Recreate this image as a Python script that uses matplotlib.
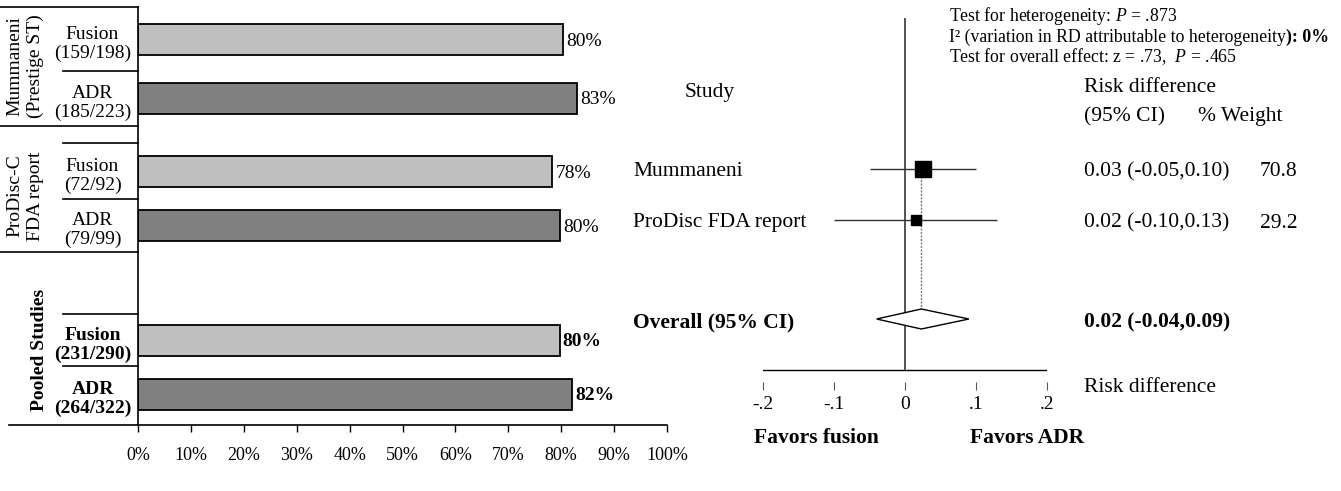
import matplotlib
matplotlib.use("Agg")
import matplotlib.pyplot as plt
import numpy as np

plt.rcParams['font.family'] = ['Liberation Serif', 'DejaVu Serif']
plt.rcParams['mathtext.fontset'] = 'custom'
plt.rcParams['mathtext.rm'] = 'Liberation Serif'
plt.rcParams['mathtext.it'] = 'Liberation Serif:italic'
plt.rcParams['mathtext.bf'] = 'Liberation Serif:bold'

# ---- left panel data (success rates) ----
group_names = ["Mummaneni\n(Prestige ST)", "ProDisc-C\nFDA report", "Pooled Studies"]
arm_labels = ["Fusion\n(159/198)", "ADR\n(185/223)",
              "Fusion\n(72/92)", "ADR\n(79/99)",
              "Fusion\n(231/290)", "ADR\n(264/322)"]
arm_rates = [80.3, 83.0, 78.3, 79.8, 79.7, 82.0]
arm_kind = ["Fusion", "ADR", "Fusion", "ADR", "Fusion", "ADR"]
pct_ticks = [0, 10, 20, 30, 40, 50, 60, 70, 80, 90, 100]

# ---- right panel data (forest plot) ----
studies = ["Mummaneni", "ProDisc FDA report"]
rd = [0.025, 0.015]
rd_lo = [-0.05, -0.10]
rd_hi = [0.10, 0.13]
rd_text = ["0.03 (-0.05,0.10)", "0.02 (-0.10,0.13)"]
weights = [70.8, 29.2]
overall_rd = 0.023
overall_lo = -0.04
overall_hi = 0.09
overall_text = "0.02 (-0.04,0.09)"
rd_ticks = [-0.2, -0.1, 0, 0.1, 0.2]
rd_ticklabels = ["-.2", "-.1", "0", ".1", ".2"]

W, H = 1341, 491
fig = plt.figure(figsize=(W / 100, H / 100), dpi=100)

def fx(px):
    return px / W

def fy(py):
    return 1 - py / H

# ================= left: bar chart =================
ax1 = fig.add_axes([fx(138), fy(425), (667 - 138) / W, (425 - 7) / H])
ax1.set_xlim(0, 100)
ax1.set_ylim(425, 7)  # y in pixel units from top

bar_y = [39, 98, 171, 225, 340, 394]
colors = {"Fusion": "#c0c0c0", "ADR": "#808080"}
ax1.barh(bar_y, arm_rates, height=31, color=[colors[k] for k in arm_kind],
         edgecolor="black", linewidth=1.3, zorder=2)

for i, (y, v) in enumerate(zip(bar_y, arm_rates)):
    bold = i >= 4
    ax1.text(v + 0.6, y + 2, "%d%%" % round(v), va="center", ha="left",
             fontsize=14, fontweight="bold" if bold else "normal")
    ax1.text(-8.6, y + 5, arm_labels[i], va="center", ha="center",
             fontsize=14, linespacing=1.15, clip_on=False,
             fontweight="bold" if bold else "normal")

def xd(px):
    return (px - 138) / 5.29

# label table lines
for y in [7, 126, 252]:
    ax1.plot([xd(0), 0], [y, y], color="black", lw=1.2, clip_on=False)
for y in [71, 143, 199, 314, 366]:
    ax1.plot([xd(63), 0], [y, y], color="black", lw=1.2, clip_on=False)
ax1.plot([xd(9), 0], [425, 425], color="black", lw=1.2, clip_on=False)

ax1.text(xd(25), 66, group_names[0], rotation=90, va="center", ha="center",
         fontsize=14, linespacing=1.25, clip_on=False)
ax1.text(xd(25), 196, group_names[1], rotation=90, va="center", ha="center",
         fontsize=14, linespacing=1.25, clip_on=False)
ax1.text(xd(40), 350, group_names[2], rotation=90, va="center", ha="center",
         fontsize=14, fontweight="bold", clip_on=False)

for s in ["top", "right"]:
    ax1.spines[s].set_visible(False)
ax1.spines["left"].set_linewidth(1.2)
ax1.spines["bottom"].set_linewidth(1.2)
ax1.set_yticks([])
ax1.set_xticks(pct_ticks)
ax1.set_xticklabels(["%d%%" % t for t in pct_ticks])
ax1.tick_params(axis="x", direction="out", length=5, width=1, pad=11, labelsize=13)

# ================= right: forest plot =================
ax2 = fig.add_axes([fx(763), fy(382), (1047 - 763) / W, (382 - 7) / H])
ax2.set_xlim(-0.2, 0.2)
ax2.set_ylim(382, 7)
for s in ax2.spines.values():
    s.set_visible(False)
ax2.set_yticks([])
ax2.set_xticks(rd_ticks)
ax2.set_xticklabels(rd_ticklabels)
ax2.tick_params(axis="x", direction="out", length=6, width=0.8, color="#555555",
                pad=4, labelsize=14)

ax2.axhline(370, color="black", lw=1.0)
ax2.vlines(0, 18, 370, color="#444444", lw=1.3)

row_y = [169, 220]
overall_y = 319
for y, est, lo, hi, w in zip(row_y, rd, rd_lo, rd_hi, weights):
    ax2.hlines(y, lo, hi, color="#333333", lw=1.0, zorder=2)
    ax2.plot(est, y, marker="s", color="black", markersize=1.45 * np.sqrt(w),
             zorder=3)

ax2.vlines(overall_rd, row_y[0], overall_y, color="#777777", lw=1.0,
           linestyles=(0, (1.5, 1)), zorder=1)
ax2.fill([overall_lo, overall_rd, overall_hi, overall_rd],
         [overall_y, overall_y - 10, overall_y, overall_y + 10],
         facecolor="white", edgecolor="black", lw=1.0, zorder=2)

def ftext(px, py, s, **kw):
    kw.setdefault("fontsize", 15.5)
    kw.setdefault("va", "center")
    kw.setdefault("ha", "left")
    return fig.text(fx(px), fy(py), s, **kw)

ftext(685, 92, "Study")
ftext(1084, 88, "Risk difference")
ftext(1084, 117, "(95% CI)")
ftext(1198, 117, "% Weight")
for y, name, t, w in zip(row_y, studies, rd_text, weights):
    ftext(633, y + 3, name)
    ftext(1084, y + 3, t)
    ftext(1260, y + 3, "%.1f" % w)
ftext(633, overall_y + 3, "Overall (95% CI)", fontweight="bold")
ftext(1084, overall_y + 3, overall_text, fontweight="bold")
ftext(1084, 387, "Risk difference")
ftext(754, 438, "Favors fusion", fontweight="bold")
ftext(970, 438, "Favors ADR", fontweight="bold")

ftext(949, 16, r"Test for heterogeneity: $P$ = .873", fontsize=12.8)
t2 = ftext(949, 37, "I\u00b2 (variation in RD attributable to heterogeneity", fontsize=12.8)
ax2.annotate("): 0%", xy=(1, 0), xycoords=t2, va="bottom", ha="left",
             fontsize=12.8, fontweight="bold", annotation_clip=False)
ftext(949, 57, r"Test for overall effect: z = .73,  $P$ = .465", fontsize=12.8)

fig.savefig("out.png", dpi=100)
